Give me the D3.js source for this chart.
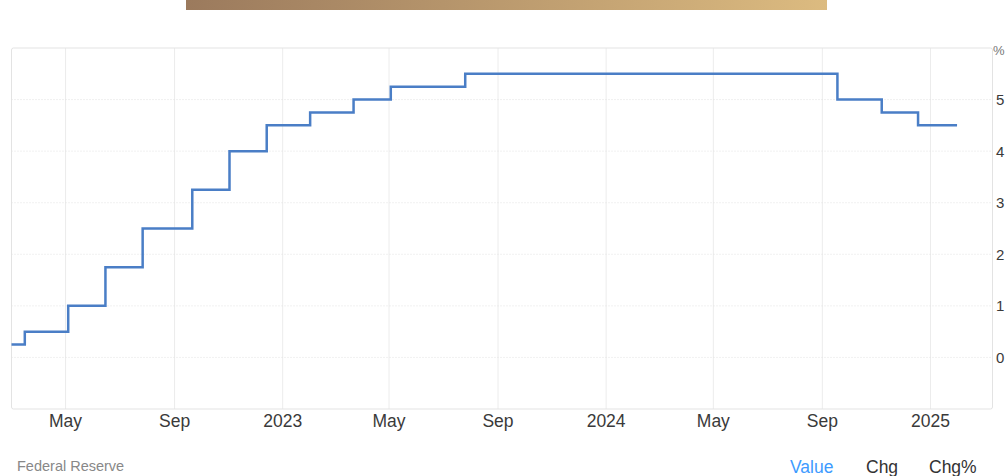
<!DOCTYPE html>
<html>
<head>
<meta charset="utf-8">
<script src="https://cdn.jsdelivr.net/npm/d3@7"></script>
<style>
  html, body { margin: 0; padding: 0; background: #fff; }
  svg { display: block; font-family: "Liberation Sans", Arial, sans-serif; }
</style>
</head>
<body>
<svg id="chart" width="1005" height="476"></svg>
<script>
// Fed funds target rate (upper bound), %
const dates = ["2022-03-01","2022-03-16","2022-05-04","2022-06-15","2022-07-27","2022-09-21","2022-11-02","2022-12-14","2023-02-01","2023-03-22","2023-05-03","2023-07-26","2024-09-18","2024-11-07","2024-12-18","2025-01-31"];
const rates = [0.25, 0.5, 1.0, 1.75, 2.5, 3.25, 4.0, 4.5, 4.75, 5.0, 5.25, 5.5, 5.0, 4.75, 4.5, 4.5];
const xTickDates = ["2022-05-01","2022-09-01","2023-01-01","2023-05-01","2023-09-01","2024-01-01","2024-05-01","2024-09-01","2025-01-01"];
const xTickLabels = ["May","Sep","2023","May","Sep","2024","May","Sep","2025"];
const yTicks = [0, 1, 2, 3, 4, 5];
const yTickLabels = ["0", "1", "2", "3", "4", "5"];
const footerSource = "Federal Reserve";
const footerTabs = ["Value", "Chg", "Chg%"];

(function () {
const parse = d3.timeParse("%Y-%m-%d");
const data = dates.map((d, i) => ({ date: parse(d), value: rates[i] }));

const svg = d3.select("#chart");
const pL = 11.5, pR = 992.5, pT = 48, pB = 409;

const x = d3.scaleTime()
  .domain([parse("2022-03-01"), parse("2025-03-12")])
  .range([pL, pR]);
const y = d3.scaleLinear().domain([-1, 6]).range([pB, pT]);

// top banner gradient
const defs = svg.append("defs");
const grad = defs.append("linearGradient").attr("id", "banner").attr("x1", "0%").attr("x2", "100%");
grad.append("stop").attr("offset", "0%").attr("stop-color", "#9b7a5d");
grad.append("stop").attr("offset", "100%").attr("stop-color", "#dcbb80");
svg.append("rect").attr("x", 186).attr("y", 0).attr("width", 641).attr("height", 10).attr("fill", "url(#banner)");

// vertical grid
svg.append("g").selectAll("line").data(xTickDates).join("line")
  .attr("x1", d => x(parse(d))).attr("x2", d => x(parse(d)))
  .attr("y1", pT).attr("y2", pB)
  .attr("stroke", "#ececec").attr("stroke-width", 1);

// horizontal grid (dotted)
svg.append("g").selectAll("line").data(yTicks).join("line")
  .attr("x1", pL).attr("x2", pR)
  .attr("y1", d => y(d)).attr("y2", d => y(d))
  .attr("stroke", "#e2e2e2").attr("stroke-width", 1).attr("stroke-dasharray", "1,2");

// plot border
svg.append("rect").attr("x", pL).attr("y", pT).attr("width", pR - pL).attr("height", pB - pT)
  .attr("fill", "none").attr("stroke", "#e3e3e3").attr("stroke-width", 1).attr("rx", 2);

// step line
const line = d3.line().x(d => x(d.date)).y(d => y(d.value)).curve(d3.curveStepAfter);
svg.append("path").datum(data).attr("d", line)
  .attr("fill", "none").attr("stroke", "#4a7ec6").attr("stroke-width", 2.5)
  .attr("stroke-linejoin", "miter");

// x labels
svg.append("g").selectAll("text").data(xTickDates).join("text")
  .attr("x", d => x(parse(d))).attr("y", 427)
  .attr("text-anchor", "middle").attr("font-size", 17.5).attr("fill", "#3a3a3a")
  .text((d, i) => xTickLabels[i]);

// y labels (right edge)
svg.append("g").selectAll("text").data(yTicks).join("text")
  .attr("x", 996).attr("y", d => y(d) + 5.5)
  .attr("font-size", 15).attr("fill", "#3a3a3a")
  .text((d, i) => yTickLabels[i]);
svg.append("text").attr("x", 993).attr("y", 55).attr("font-size", 13).attr("fill", "#777").text("%");

// footer
svg.append("text").attr("x", 17).attr("y", 471).attr("font-size", 14.5).attr("fill", "#888").text(footerSource);
const tabX = [790, 866, 929];
const tabCol = ["#3d9bff", "#333", "#333"];
svg.append("g").selectAll("text").data(footerTabs).join("text")
  .attr("x", (d, i) => tabX[i]).attr("y", 473)
  .attr("font-size", 17.5).attr("fill", (d, i) => tabCol[i])
  .text(d => d);
})();
</script>
</body>
</html>
